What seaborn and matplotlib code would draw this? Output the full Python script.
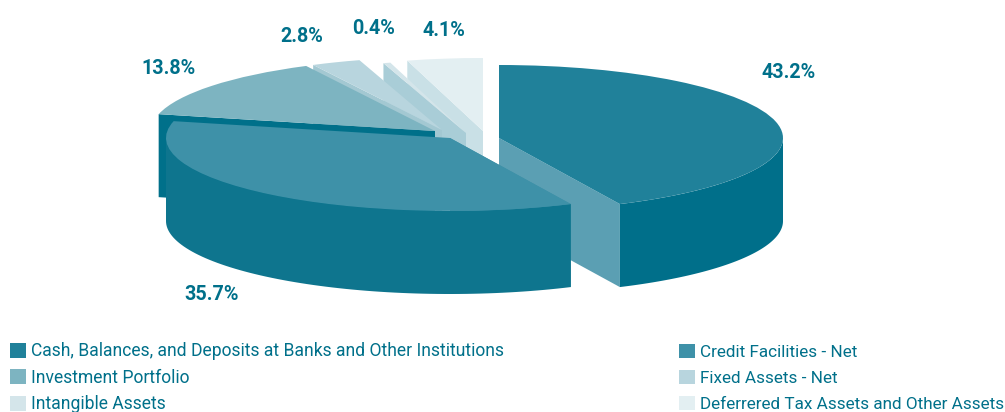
import numpy as np
import matplotlib
matplotlib.use("Agg")
import matplotlib.pyplot as plt
from matplotlib.patches import Patch
import seaborn as sns

# Asset composition, in percent of total assets
categories = [
    "Cash, Balances, and Deposits at Banks and Other Institutions",
    "Credit Facilities - Net",
    "Investment Portfolio",
    "Fixed Assets - Net",
    "Intangible Assets",
    "Deferrered Tax Assets and Other Assets",
]
shares = [43.2, 35.7, 13.8, 2.8, 0.4, 4.1]

# Face colours of each slice
top_colors = ["#20819a", "#3e91a8", "#7db4c1", "#b8d5de", "#d4e5ea", "#e3eff2"]
cut_colors = ["#5b9fb3", "#3e91a8", "#00708a", "#a3c8d2", "#a9cdd7", "#c9e0e6"]
rim_colors = ["#006f8a", "#0e758e", "#00708a", "#a3c8d2", "#a9cdd7", "#c9e0e6"]
ink = "#00708a"

# Layout in pixels of the 1005x412 canvas
W, H = 1005, 412
RX, RY, DEPTH = 284.0, 73.0, 83.0
hubs = [(499, 138), (450, 138), (435, 131), (442, 130), (466, 133), (483, 131)]
label_xy = [(789, 73), (212, 295), (169, 69), (302, 37), (373.5, 28), (443.5, 30)]
draw_order = [0, 5, 4, 3, 2, 1]

sns.set_theme(style="white")
plt.rcParams["font.family"] = ["Roboto", "DejaVu Sans"]

fig = plt.figure(figsize=(W / 100, H / 100), dpi=100)
ax = fig.add_axes([0, 0, 1, 1])

# The pie lives in unit-circle coordinates; the axis limits flatten it into an ellipse
wedges, _ = ax.pie(shares, startangle=90.7, counterclock=False, colors=top_colors,
                   wedgeprops={"linewidth": 0})
# Square off the gap at twelve o'clock so both outer edges stay vertical
wedges[0].set_theta2(90)
wedges[5].set_theta1(-270)
ax.set_aspect("auto")
ax.set_xlim(0, W / RX)
ax.set_ylim(-H / RY, 0)
ax.axis("off")

drop = DEPTH / RY


def rim(center, t0, t1):
    t = np.radians(np.linspace(t0, t1, 80))
    return center[0] + np.cos(t), center[1] + np.sin(t)


for rank, i in enumerate(draw_order):
    w = wedges[i]
    c = (hubs[i][0] / RX, -hubs[i][1] / RY)
    w.set_center(c)
    base = 10 + 3 * rank
    w.set_zorder(base + 2)

    # Radial wall along the leading edge of the slice
    a = np.radians(w.theta2 if i != 0 else w.theta1)
    ex, ey = c[0] + np.cos(a), c[1] + np.sin(a)
    ax.fill([c[0], ex, ex, c[0]], [c[1], ey, ey - drop, c[1] - drop],
            color=cut_colors[i], lw=0, zorder=base)

    # Curved outer wall, visible only on the near half of the ellipse
    t0, t1 = max(w.theta1, -180), min(w.theta2, 0)
    if t1 > t0:
        x, y = rim(c, t0, t1)
        ax.fill(np.r_[x, x[::-1]], np.r_[y, y[::-1] - drop],
                color=rim_colors[i], lw=0, zorder=base + 1)

# Percentage labels
for share, (px, py) in zip(shares, label_xy):
    fig.text(px / W, 1 - py / H, f"{share:.1f}%", color=ink, fontsize=14.2,
             fontweight="bold", ha="center", va="center")

# Two-column legend
for idx, x0, fs, gap, top in (([0, 2, 4], 10, 12.65, 8.4, 342.5), ([1, 3, 5], 679, 12.35, 9.8, 343.5)):
    px_pt = 72 / 100 / fs  # one pixel in legend font-size units
    handles = [Patch(color=top_colors[i], lw=0, label=categories[i]) for i in idx]
    fig.legend(handles=handles, loc="upper left", bbox_to_anchor=(x0 / W, 1 - top / H),
               frameon=False, fontsize=fs, labelcolor=ink, borderpad=0, borderaxespad=0,
               handlelength=16 * px_pt, handleheight=16 * px_pt,
               handletextpad=5 * px_pt, labelspacing=gap * px_pt)

fig.savefig("out.png", dpi=100)
